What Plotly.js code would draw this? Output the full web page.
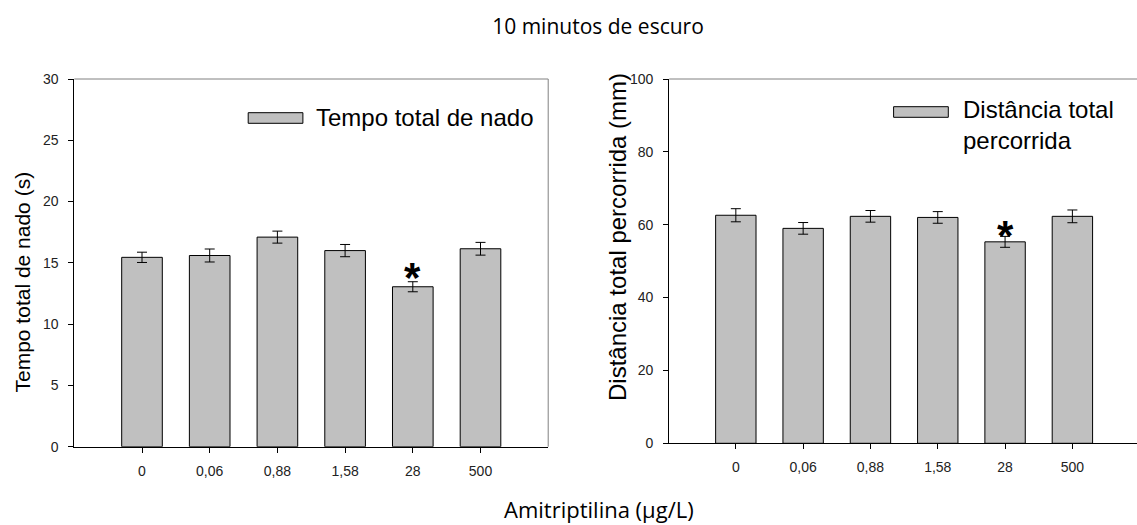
<!DOCTYPE html>
<html>
<head>
<meta charset="utf-8">
<script src="https://cdn.plot.ly/plotly-3.0.1.min.js"></script>
<style>html,body{margin:0;padding:0;background:#fff;}#chart{width:1137px;height:525px;}</style>
</head>
<body>
<div id="chart"></div>
<script>
const categories = ['0', '0,06', '0,88', '1,58', '28', '500'];
const tempoTotal = [15.45, 15.6, 17.1, 16.0, 13.05, 16.15];
const tempoErr = [0.42, 0.53, 0.49, 0.5, 0.41, 0.52];
const distTotal = [62.6, 59.0, 62.3, 62.0, 55.3, 62.3];
const distErr = [1.8, 1.6, 1.6, 1.6, 1.5, 1.75];
const leftLegend = 'Tempo total de nado';
const rightLegend = 'Distância total<br>percorrida';
const leftYTitle = 'Tempo total de nado (s)';
const rightYTitle = 'Distância total percorrida (mm)';
const xTitle = 'Amitriptilina (µg/L)';
const chartTitle = '10 minutos de escuro';
const significant = '28';
const leftYTicks = [0, 5, 10, 15, 20, 25, 30];
const rightYTicks = [0, 20, 40, 60, 80, 100];

const W = 1137, H = 525;
const px = v => v / W;
const py = v => 1 - v / H;

const barStyle = {color: '#c0c0c0', line: {color: '#000', width: 1}};
const errStyle = {type: 'data', visible: true, color: '#000', thickness: 1, width: 5};

const traces = [
  {type: 'bar', x: categories, y: tempoTotal, name: leftLegend, width: 0.6,
   marker: barStyle, error_y: Object.assign({array: tempoErr}, errStyle),
   xaxis: 'x', yaxis: 'y', showlegend: false, hoverinfo: 'none'},
  {type: 'bar', x: categories, y: distTotal, name: rightLegend, width: 0.6,
   marker: barStyle, error_y: Object.assign({array: distErr}, errStyle),
   xaxis: 'x2', yaxis: 'y2', showlegend: false, hoverinfo: 'none'}
];

const sigIdx = categories.indexOf(significant);
const arial = 'Arial, Liberation Sans, sans-serif';
const tickFont = {family: arial, size: 14, color: '#222'};
const baseX = {type: 'category', showline: true, linecolor: '#000', linewidth: 1,
  ticks: 'outside', ticklen: 5, tickcolor: '#000', tickfont: tickFont, ticklabelstandoff: 6,
  showgrid: false, zeroline: false, fixedrange: true};
const baseY = {showline: true, linecolor: '#000', linewidth: 1,
  ticks: 'outside', ticklen: 5, tickcolor: '#000', tickfont: tickFont, ticklabelstandoff: 7,
  showgrid: false, zeroline: false, fixedrange: true, tickmode: 'array'};

const layout = {
  width: W, height: H,
  margin: {l: 0, r: 0, t: 0, b: 0},
  paper_bgcolor: '#fff', plot_bgcolor: '#fff',
  showlegend: false,
  title: {text: chartTitle, x: px(598), xanchor: 'center', y: py(27), yanchor: 'middle',
          font: {family: 'Open Sans, sans-serif', size: 21, color: '#000'}},
  xaxis: Object.assign({}, baseX, {domain: [px(74.3), px(548.2)], range: [-1, 6], anchor: 'y'}),
  yaxis: Object.assign({}, baseY, {domain: [py(446.7), py(79)], range: [0, 30], anchor: 'x',
    tickvals: leftYTicks}),
  xaxis2: Object.assign({}, baseX, {domain: [px(669.2), 1], range: [-0.99, 5.96], anchor: 'y2'}),
  yaxis2: Object.assign({}, baseY, {domain: [py(443.3), py(79)], range: [0, 100], anchor: 'x2',
    tickvals: rightYTicks}),
  shapes: [
    {type: 'line', xref: 'x domain', yref: 'y domain', x0: 0, x1: 1, y0: 1, y1: 1, line: {color: '#808080', width: 1}},
    {type: 'line', xref: 'x domain', yref: 'y domain', x0: 1, x1: 1, y0: 0, y1: 1, line: {color: '#808080', width: 1}},
    {type: 'line', xref: 'x2 domain', yref: 'y2 domain', x0: 0, x1: 1, y0: 1, y1: 1, line: {color: '#808080', width: 1}},
    {type: 'rect', xref: 'paper', yref: 'paper', x0: px(248.2), x1: px(302.9), y0: py(123.3), y1: py(112.7),
     fillcolor: '#c0c0c0', line: {color: '#000', width: 1}},
    {type: 'rect', xref: 'paper', yref: 'paper', x0: px(893.6), x1: px(948.3), y0: py(117.3), y1: py(106.7),
     fillcolor: '#c0c0c0', line: {color: '#000', width: 1}}
  ],
  annotations: [
    {text: xTitle, xref: 'paper', yref: 'paper', x: px(599), y: py(509),
     xanchor: 'center', yanchor: 'middle', showarrow: false,
     font: {family: 'Open Sans, sans-serif', size: 22, color: '#000'}},
    {text: leftYTitle, xref: 'paper', yref: 'paper', x: px(22), y: py(282.5), textangle: -90,
     xanchor: 'center', yanchor: 'middle', showarrow: false,
     font: {family: arial, size: 21, color: '#000'}},
    {text: rightYTitle, xref: 'paper', yref: 'paper', x: px(618), y: py(237), textangle: -90,
     xanchor: 'center', yanchor: 'middle', showarrow: false,
     font: {family: arial, size: 24, color: '#000'}},
    {text: leftLegend, xref: 'paper', yref: 'paper', x: px(314), y: py(117.5),
     xanchor: 'left', yanchor: 'middle', showarrow: false, align: 'left',
     font: {family: arial, size: 24, color: '#000'}},
    {text: rightLegend, xref: 'paper', yref: 'paper', x: px(961), y: py(125),
     xanchor: 'left', yanchor: 'middle', showarrow: false, align: 'left',
     font: {family: arial, size: 24, color: '#000'}},
    {text: '*', xref: 'x', yref: 'y', x: sigIdx, y: tempoTotal[sigIdx] + tempoErr[sigIdx],
     xanchor: 'center', yanchor: 'bottom', showarrow: false, yshift: -21,
     font: {family: arial, size: 42, color: '#000', weight: 'bold'}},
    {text: '*', xref: 'x2', yref: 'y2', x: sigIdx, y: distTotal[sigIdx] + distErr[sigIdx],
     xanchor: 'center', yanchor: 'bottom', showarrow: false, yshift: -25,
     font: {family: arial, size: 42, color: '#000', weight: 'bold'}}
  ]
};

Plotly.newPlot('chart', traces, layout, {displayModeBar: false, staticPlot: true});
</script>
</body>
</html>
